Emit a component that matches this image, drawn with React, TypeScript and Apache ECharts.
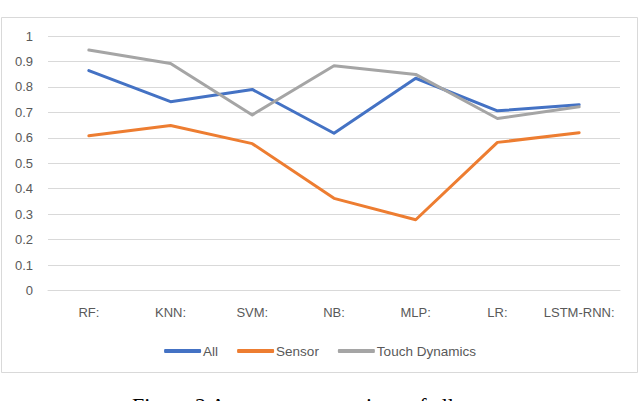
import React, { useEffect, useRef } from "react";
import * as echarts from "echarts";

const categories = ["RF:", "KNN:", "SVM:", "NB:", "MLP:", "LR:", "LSTM-RNN:"];
const allValues = [0.864, 0.742, 0.79, 0.618, 0.834, 0.706, 0.73];
const sensorValues = [0.608, 0.648, 0.577, 0.362, 0.278, 0.582, 0.62];
const touchValues = [0.945, 0.892, 0.69, 0.883, 0.849, 0.676, 0.722];
const seriesNames = ["All", "Sensor", "Touch Dynamics"];
const caption = "Figure 2 Accuracy comparison of all";
const topFragments = [
  { ch: "p", x: 356 },
  { ch: "g", x: 442 },
  { ch: "y", x: 498 },
  { ch: "p", x: 608 },
];

export default function App() {
  const ref = useRef<HTMLDivElement>(null);
  useEffect(() => {
    if (!ref.current) return;
    const chart = echarts.init(ref.current, undefined, { renderer: "svg" });
    const font = "Liberation Sans";
    const mk = (name: string, data: number[], color: string) => ({
      name,
      type: "line",
      data,
      showSymbol: false,
      symbol: "none",
      lineStyle: { color, width: 3, cap: "round", join: "round" },
      itemStyle: { color },
    });
    chart.setOption({
      animation: false,
      backgroundColor: "#ffffff",
      grid: { left: 48, right: 20, top: 36, bottom: 110.5 },
      xAxis: {
        type: "category",
        data: categories,
        boundaryGap: true,
        axisLine: { show: true, lineStyle: { color: "#D9D9D9", width: 1 } },
        axisTick: { show: false },
        axisLabel: { color: "#595959", fontSize: 13, fontFamily: font, margin: 15, interval: 0 },
        splitLine: { show: false },
      },
      yAxis: {
        type: "value",
        min: 0,
        max: 1,
        interval: 0.1,
        axisLine: { show: false },
        axisTick: { show: false },
        axisLabel: {
          color: "#595959",
          fontSize: 13,
          fontFamily: font,
          margin: 15,
          formatter: (v: number) => String(Math.round(v * 10) / 10),
        },
        splitLine: { lineStyle: { color: "#D9D9D9", width: 1 } },
      },
      legend: {
        data: seriesNames,
        left: "center",
        top: 339,
        icon: "roundRect",
        itemWidth: 37,
        itemHeight: 4,
        itemGap: 19,
        textStyle: { color: "#595959", fontSize: 13.5, fontFamily: font, padding: [0, 0, 0, -3] },
      },
      graphic: [
        {
          type: "rect",
          shape: { x: 1.5, y: 17.5, width: 636, height: 355 },
          style: { fill: "none", stroke: "#D9D9D9", lineWidth: 1 },
          silent: true,
        },
        {
          type: "text",
          x: 132,
          y: 394,
          style: {
            text: caption,
            font: "22px 'Liberation Serif'",
            fill: "#000000",
            textAlign: "left",
            verticalAlign: "top",
          },
        },
        ...topFragments.map((f) => ({
          type: "text",
          x: f.x,
          y: -2.5,
          style: {
            text: f.ch,
            font: "22px 'Liberation Serif'",
            fill: "#000000",
            textAlign: "center",
            verticalAlign: "bottom",
          },
        })),
      ],
      series: [
        mk(seriesNames[0], allValues, "#4472C4"),
        mk(seriesNames[1], sensorValues, "#ED7D31"),
        mk(seriesNames[2], touchValues, "#A5A5A5"),
      ],
    });
    return () => chart.dispose();
  }, []);
  return (
    <div
      ref={ref}
      style={{ position: "fixed", left: 0, top: 0, width: 640, height: 401, background: "#fff" }}
    />
  );
}
